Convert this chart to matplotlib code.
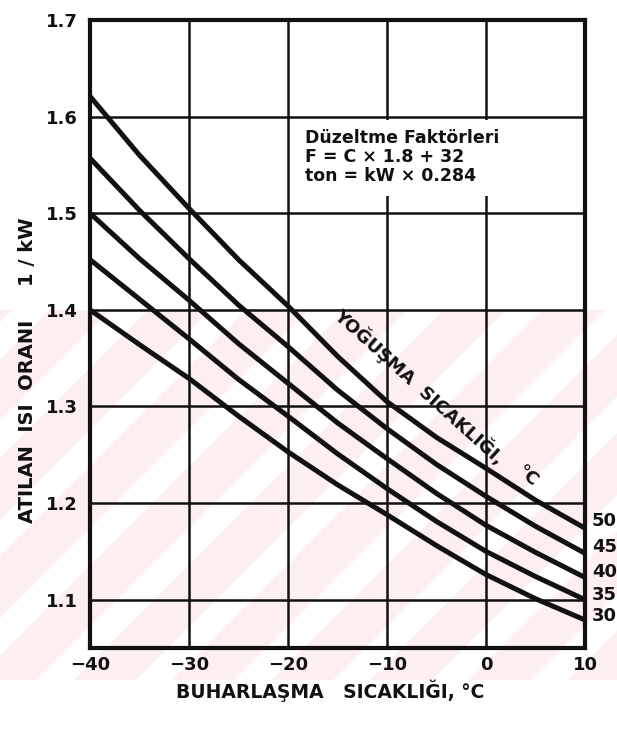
import matplotlib

matplotlib.use("Agg")
import matplotlib.pyplot as plt
from matplotlib.patches import Polygon, Rectangle

# evaporating temperature, deg C
evap_temp = [-40, -35, -30, -25, -20, -15, -10, -5, 0, 5, 10]

# heat rejection ratio per condensing temperature (deg C)
cond_temps = [50, 45, 40, 35, 30]
ratio_50 = [1.621, 1.560, 1.505, 1.452, 1.404, 1.352, 1.305, 1.268, 1.236, 1.203, 1.174]
ratio_45 = [1.557, 1.503, 1.453, 1.405, 1.362, 1.317, 1.277, 1.240, 1.207, 1.176, 1.148]
ratio_40 = [1.500, 1.453, 1.410, 1.365, 1.324, 1.283, 1.246, 1.210, 1.177, 1.149, 1.123]
ratio_35 = [1.452, 1.411, 1.370, 1.328, 1.290, 1.251, 1.215, 1.181, 1.150, 1.124, 1.100]
ratio_30 = [1.400, 1.364, 1.329, 1.290, 1.253, 1.219, 1.188, 1.156, 1.126, 1.101, 1.079]

x_ticks = [-40, -30, -20, -10, 0, 10]
y_ticks = [1.1, 1.2, 1.3, 1.4, 1.5, 1.6, 1.7]

FONT = ["Liberation Sans Narrow", "DejaVu Sans"]
INK = "#111111"


def add_watermark(fig):
    # faint pink diagonal bands from the scanned page
    clip = Rectangle((0, 55 / 735), 1, 370 / 735, transform=fig.transFigure)
    period = 0.16
    band = 0.10
    start = -1.0
    while start < 1.2:
        pts = [(start, 55 / 735), (start + band, 55 / 735),
               (start + band + 0.6, 425 / 735), (start + 0.6, 425 / 735)]
        poly = Polygon(pts, closed=True, transform=fig.transFigure,
                       facecolor="#fdeef0", edgecolor="none", zorder=-5)
        poly.set_clip_path(clip)
        fig.patches.append(poly)
        start += period


def main():
    plt.rcParams["font.family"] = FONT
    plt.rcParams["font.weight"] = "bold"

    fig = plt.figure(figsize=(6.17, 7.35), dpi=100)
    add_watermark(fig)
    ax = fig.add_axes([90 / 617, 1 - 648 / 735, 495 / 617, 628 / 735])
    ax.set_zorder(2)
    ax.patch.set_alpha(0)

    ax.set_xlim(-40, 10)
    ax.set_ylim(1.05, 1.7)

    for xv in x_ticks[1:-1]:
        ax.axvline(xv, color=INK, lw=1.8, zorder=1)
    for yv in y_ticks[:-1]:
        ax.axhline(yv, color=INK, lw=1.8, zorder=1)

    # blank cell behind the conversion note
    ax.add_patch(Rectangle((-19.7, 1.518), 29.4, 0.078, facecolor="white",
                           edgecolor="none", zorder=1.5))

    series = [ratio_50, ratio_45, ratio_40, ratio_35, ratio_30]
    offsets = [5, 4.5, 4, 3.5, 3]
    for temp, vals, dy in zip(cond_temps, series, offsets):
        ax.plot(evap_temp, vals, color=INK, lw=3.6, solid_capstyle="butt", zorder=3)
        ax.annotate(str(temp), xy=(evap_temp[-1], vals[-1]), xytext=(5, dy),
                    textcoords="offset points", ha="left", va="center",
                    fontsize=13, annotation_clip=False, color=INK)

    for side in ax.spines.values():
        side.set_linewidth(3.0)
        side.set_color(INK)
        side.set_zorder(4)

    ax.set_xticks(x_ticks)
    ax.set_xticklabels([str(v) if v >= 0 else "\u2212" + str(-v) for v in x_ticks])
    ax.set_yticks(y_ticks)
    ax.set_yticklabels([f"{v:.1f}" for v in y_ticks])
    ax.tick_params(length=0, labelsize=13, colors=INK)
    ax.tick_params(axis="x", pad=6)
    ax.tick_params(axis="y", pad=9)

    ax.text(-18.3, 1.587, "Düzeltme Faktörleri\nF = C × 1.8 + 32\nton = kW × 0.284",
            ha="left", va="top", fontsize=12.5, linespacing=1.05, color=INK, zorder=5)

    ax.text(-6.7, 1.321, "YOĞUŞMA  SICAKLIĞI,", rotation=-42, rotation_mode="anchor",
            ha="center", va="center", fontsize=13, color=INK, zorder=5)
    ax.text(4.2, 1.228, "°C", rotation=-40, ha="center", va="center",
            fontsize=13, color=INK, zorder=5)

    fig.text(330 / 617, 1 - 691 / 735, "BUHARLAŞMA   SICAKLIĞI, °C",
             ha="center", va="center", fontsize=13.5, color=INK)
    fig.text(28 / 617, 1 - 370 / 735, "ATILAN  ISI  ORANI     1 / kW", rotation=90,
             ha="center", va="center", fontsize=14, color=INK)

    fig.savefig("out.png", dpi=100)
    plt.close(fig)


if __name__ == "__main__":
    main()
